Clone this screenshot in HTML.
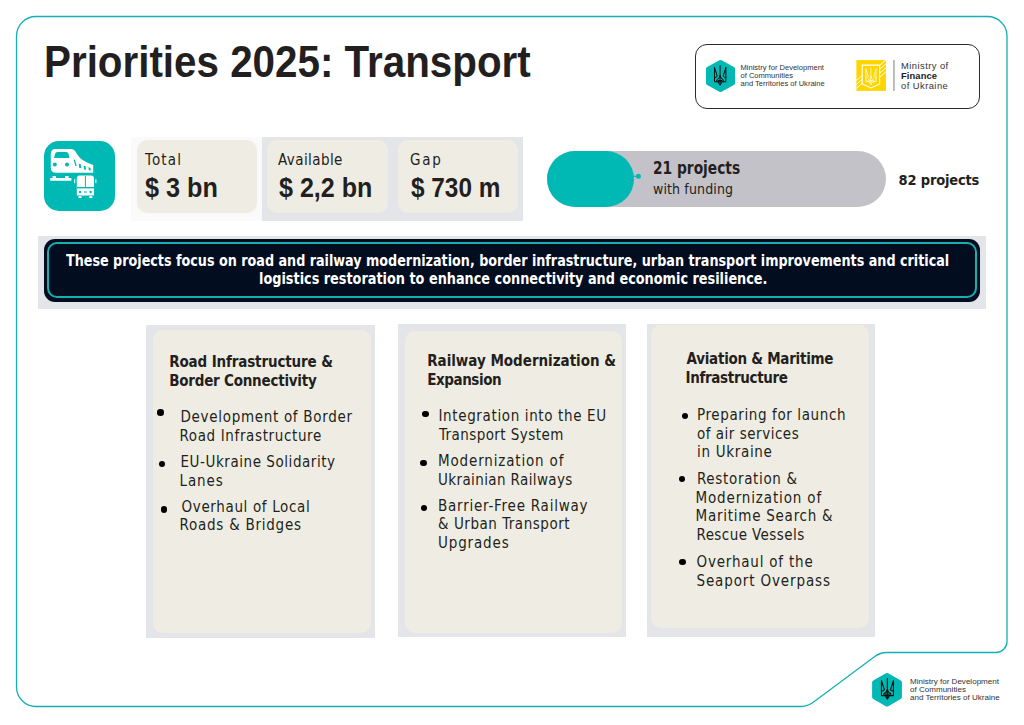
<!DOCTYPE html>
<html><head><meta charset="utf-8">
<title>Priorities 2025: Transport</title>
<style>
*{margin:0;padding:0;box-sizing:border-box}
html,body{width:1024px;height:725px;overflow:hidden;background:#fff}
body{position:relative;font-family:"Liberation Sans",sans-serif;color:#231f20}
.a{position:absolute;white-space:nowrap}
.t{color:#231f20}
.title{left:44.5px;top:41px;font-size:44px;line-height:44px;font-weight:700;transform-origin:0 0;transform:scaleX(0.921);color:#231f20}
.logos{left:695px;top:44px;width:284.5px;height:64.5px;border:1.5px solid #2b2b2b;border-radius:12px}
.iconbox{left:44.3px;top:141.2px;width:70.5px;height:70.3px;border-radius:15px;background:#00b8b4}
.statbg1{left:131px;top:137px;width:131px;height:84px;background:#fafafa}
.statbg2{left:262px;top:137px;width:261px;height:84px;background:#e4e5e8}
.stat{top:140px;width:120.5px;height:73px;border-radius:10px;background:#efede3}
.stat .l{position:absolute;left:8px;top:10px;font-size:15.5px;line-height:18px;color:#231f20}
.stat .v{position:absolute;left:8px;top:33px;font-size:26px;line-height:30px;font-weight:700;color:#231f20}
.bar{left:547px;top:151px;width:339px;height:56px;border-radius:28px;background:#c3c2c8}
.barfill{left:547px;top:151px;width:87px;height:56px;border-radius:28px/28px;background:#00b8b4}
.banbg{left:38px;top:236px;width:948px;height:73px;background:#e4e5e8}
.ban{left:44px;top:238.5px;width:936px;height:63px;border-radius:11px;background:#020d1f}
.banin{left:47px;top:242px;width:930px;height:56px;border-radius:10px;border:2px solid #14b1b0}
.bantxt{left:44px;top:249px;width:936px;text-align:center;color:#fff;font-weight:700;font-size:15.2px;line-height:19.5px;white-space:normal}
.cardbg{background:#e4e5e8}
.card{background:#efede3;border-radius:10px}
.dot{width:6.4px;height:6.4px;border-radius:50%;background:#000}
.lg{font-size:7.3px;line-height:7.85px;color:#333}
</style></head><body>

<svg class="a" style="left:0;top:0" width="1024" height="725" viewBox="0 0 1024 725">
  <path d="M36 16.5 H987.5 A19.5 19.5 0 0 1 1007 36 V641.5 A11 11 0 0 1 996 652.5 H887 Q880.2 652.5 874.75 656.5 L812.25 703 Q806.8 706.5 800 706.5 H36 A19.5 19.5 0 0 1 16.5 687 V36 A19.5 19.5 0 0 1 36 16.5 Z" fill="none" stroke="#14b0b4" stroke-width="1.3"/>
</svg>



<!-- logos box -->
<div class="a logos"></div>
<svg class="a" style="left:700px;top:55px" width="45" height="45" viewBox="0 0 45 45">
  <polygon points="20.5,7.3 32.7,14 32.7,28 20.5,34.7 8.3,28 8.3,14" fill="#00b8b4" stroke="#00b8b4" stroke-width="4.6" stroke-linejoin="round"/>
  <g transform="translate(13.9,10.7) scale(0.945)" fill="none" stroke="#111" stroke-width="1.05" stroke-linejoin="round" stroke-linecap="round">
    <path d="M6.53 0 V20 M0.65 2 V17 H12.66 V2 M0.65 2 L3.55 11.1 Q3 12.4 0.65 12.4 M12.66 2 L9.75 11.1 Q10.3 12.4 12.66 12.4 M6.53 10.5 Q6 14 3.1 14.9 V17 M6.53 10.5 Q7 14 9.96 14.9 V17 M4.4 17 L6.53 20.7 L8.7 17 M4.6 15.7 H8.5"/>
  </g>
</svg>
<div class="a lg" style="left:740.5px;top:64.2px;font-size:7.55px;line-height:7.85px">Ministry for Development<br>of Communities<br>and Territories of Ukraine</div>

<svg class="a" style="left:850px;top:55px" width="50" height="42" viewBox="0 0 50 42">
  <rect x="6.4" y="5.1" width="29.5" height="30.8" fill="#ffd500"/>
  <g stroke="#fff" stroke-width="0.9" fill="none">
    <path d="M6.4 25.5 L12.2 20.4 M6.4 29.4 L12.2 24.3 M6.4 33.3 L12.2 28.2"/>
    <path d="M29.6 10.2 L35.9 5 M29.6 14.2 L35.9 9 M29.6 18.2 L35.9 13 M29.6 22.2 L35.9 17"/>
    <path d="M12.2 10.1 H29.6 V28.9 L21 33 L12.2 28.9 Z" stroke-width="1.1"/>
  </g>
  <g transform="translate(15.4,12.4) scale(0.84)" fill="none" stroke="#fff7c8" stroke-width="1.05" stroke-linejoin="round" stroke-linecap="round">
    <path d="M6.53 0 V20 M0.65 2 V17 H12.66 V2 M0.65 2 L3.55 11.1 Q3 12.4 0.65 12.4 M12.66 2 L9.75 11.1 Q10.3 12.4 12.66 12.4 M6.53 10.5 Q6 14 3.1 14.9 V17 M6.53 10.5 Q7 14 9.96 14.9 V17 M4.4 17 L6.53 20.7 L8.7 17 M4.6 15.7 H8.5"/>
  </g>
  <rect x="43.3" y="5" width="1.3" height="31" fill="#9a9a9a"/>
</svg>
<div class="a" style="left:901px;top:60.5px;font-size:9.4px;line-height:10.1px;color:#333;letter-spacing:0.45px">Ministry of<br><b style="color:#1a1a1a;letter-spacing:0.1px">Finance</b><br>of Ukraine</div>

<!-- transport icon -->
<div class="a iconbox"></div>
<svg class="a" style="left:44px;top:141px" width="71" height="70" viewBox="0 0 71 70">
  <g fill="#fff">
    <path d="M6.8 13 Q6.8 8 11.8 8 H27.5 Q30 8 31.5 10.5 Q34.5 16.5 39.5 19.5 Q44 22.5 49.2 24 V31.8 H12 Q6.8 31.8 6.8 26.5 Z"/>
    <path d="M6.2 37 H27.4 V39.8 H6.2 Z M8.5 35 H12 V37 H8.5 Z M21 35 H24.5 V37 H21 Z"/>
    <path d="M32.8 37.5 Q32.8 34.6 35.6 34.6 H47.2 Q50 34.6 50 37.5 V54.6 H32.8 Z"/>
    <rect x="34.5" y="55.2" width="3" height="1.8"/>
    <rect x="45.3" y="55.2" width="3" height="1.8"/>
    <rect x="30.2" y="38.2" width="1" height="4"/>
    <rect x="51.4" y="38.2" width="1" height="4"/>
  </g>
  <g fill="#00b8b4">
    <path d="M10 17 L11 13 Q11.6 11 13.6 11 H22 Q24 11 24.6 13 L25.4 17 Z"/>
    <circle cx="10.8" cy="23.6" r="2"/>
    <circle cx="23" cy="23.6" r="2"/>
    <path d="M29.6 18.6 L30.9 18.8 L32.7 24.7 L31.4 24.9 Z"/>
    <path d="M34.8 22.8 L36.8 23.2 L37.3 27.2 L35.2 26.8 Z"/>
    <path d="M39.6 24.8 L41.6 25.2 L42 28.8 L40 28.4 Z"/>
    <path d="M44.4 26.3 L46.4 26.7 L46.8 29.6 L44.8 29.2 Z"/>
    <rect x="40.9" y="35" width="1" height="11.5"/>
    <rect x="32.8" y="46" width="17.2" height="1.4"/>
    <circle cx="36" cy="51" r="1.2"/>
    <circle cx="46.6" cy="51" r="1.2"/>
    <rect x="39.8" y="50.5" width="3.2" height="1"/>
  </g>
</svg>

<div class="a statbg1"></div>
<div class="a statbg2"></div>
<div class="a stat" style="left:136.5px"></div>
<div class="a stat" style="left:267px"></div>
<div class="a stat" style="left:397.5px"></div>

<div class="a bar"></div>
<div class="a barfill"></div>
<svg class="a" style="left:630px;top:170px" width="14" height="12" viewBox="0 0 14 12">
  <path d="M2 6.3 H7" stroke="#00b8b4" stroke-width="1.2"/>
  <circle cx="8.4" cy="6.3" r="2.5" fill="#00b8b4"/>
</svg>

<div class="a banbg"></div>
<div class="a ban"></div>
<div class="a banin"></div>


<div class="a cardbg" style="left:146px;top:325px;width:229px;height:313px"></div>
<div class="a card" style="left:153px;top:330px;width:218px;height:303px"></div>
<div class="a cardbg" style="left:398px;top:324px;width:228px;height:313px"></div>
<div class="a card" style="left:404.5px;top:330.5px;width:217.5px;height:302px"></div>
<div class="a cardbg" style="left:647px;top:324px;width:228px;height:313px"></div>
<div class="a card" style="left:651px;top:325px;width:218px;height:302.5px"></div>

<div class="a" id="title" style="left:43.50px;top:37.28px;font-family:'Liberation Sans',sans-serif;font-size:44px;font-weight:700;line-height:49.15px;color:#231f20;transform-origin:0 0;transform:scaleX(0.9173)">Priorities 2025: Transport</div>
<div class="a" id="s1l" style="left:145.00px;top:151.58px;font-family:'DejaVu Sans Condensed','DejaVu Sans',sans-serif;font-size:15px;font-weight:400;line-height:17.46px;color:#231f20;letter-spacing:1.200px">Total</div>
<div class="a" id="s1v" style="left:144.80px;top:172.76px;font-family:'Liberation Sans',sans-serif;font-size:27px;font-weight:700;line-height:30.16px;color:#231f20;transform-origin:0 0;transform:scaleX(0.9344)">$ 3 bn</div>
<div class="a" id="s2l" style="left:278.00px;top:152.48px;font-family:'DejaVu Sans Condensed','DejaVu Sans',sans-serif;font-size:15px;font-weight:400;line-height:17.46px;color:#231f20;letter-spacing:0.425px">Available</div>
<div class="a" id="s2v" style="left:279.00px;top:172.66px;font-family:'Liberation Sans',sans-serif;font-size:27px;font-weight:700;line-height:30.16px;color:#231f20;transform-origin:0 0;transform:scaleX(0.9286)">$ 2,2 bn</div>
<div class="a" id="s3l" style="left:410.00px;top:152.48px;font-family:'DejaVu Sans Condensed','DejaVu Sans',sans-serif;font-size:15px;font-weight:400;line-height:17.46px;color:#231f20;letter-spacing:1.700px">Gap</div>
<div class="a" id="s3v" style="left:410.80px;top:172.66px;font-family:'Liberation Sans',sans-serif;font-size:27px;font-weight:700;line-height:30.16px;color:#231f20;transform-origin:0 0;transform:scaleX(0.9022)">$ 730 m</div>
<div class="a" id="p21" style="left:653.00px;top:159.47px;font-family:'DejaVu Sans Condensed','DejaVu Sans',sans-serif;font-size:17px;font-weight:700;line-height:19.79px;color:#231f20;transform-origin:0 0;transform:scaleX(0.9011)">21 projects</div>
<div class="a" id="pwf" style="left:653.00px;top:181.11px;font-family:'DejaVu Sans Condensed','DejaVu Sans',sans-serif;font-size:14px;font-weight:400;line-height:16.30px;color:#231f20;letter-spacing:0.127px">with funding</div>
<div class="a" id="p82" style="left:898.50px;top:171.54px;font-family:'DejaVu Sans Condensed','DejaVu Sans',sans-serif;font-size:14.5px;font-weight:700;line-height:16.88px;color:#231f20;letter-spacing:-0.160px">82 projects</div>
<div class="a" id="b1" style="left:65.50px;top:253.48px;font-family:'DejaVu Sans Condensed','DejaVu Sans',sans-serif;font-size:15px;font-weight:700;line-height:17.46px;color:#fff;transform-origin:0 0;transform:scaleX(0.9449)">These projects focus on road and railway modernization, border infrastructure, urban transport improvements and critical</div>
<div class="a" id="b2" style="left:258.50px;top:270.88px;font-family:'DejaVu Sans Condensed','DejaVu Sans',sans-serif;font-size:15px;font-weight:700;line-height:17.46px;color:#fff;transform-origin:0 0;transform:scaleX(0.9523)">logistics restoration to enhance connectivity and economic resilience.</div>
<div class="a" id="c0" style="left:169.20px;top:354.28px;font-family:'DejaVu Sans Condensed','DejaVu Sans',sans-serif;font-size:15px;font-weight:700;line-height:17.46px;color:#231f20;letter-spacing:-0.135px">Road Infrastructure &amp;</div>
<div class="a" id="c1" style="left:169.20px;top:373.48px;font-family:'DejaVu Sans Condensed','DejaVu Sans',sans-serif;font-size:15px;font-weight:700;line-height:17.46px;color:#231f20;letter-spacing:-0.228px">Border Connectivity</div>
<div class="a" id="c2" style="left:180.50px;top:409.18px;font-family:'DejaVu Sans Condensed','DejaVu Sans',sans-serif;font-size:15px;font-weight:400;line-height:17.46px;color:#231f20;letter-spacing:0.690px">Development of Border</div>
<div class="a" id="c3" style="left:179.50px;top:428.08px;font-family:'DejaVu Sans Condensed','DejaVu Sans',sans-serif;font-size:15px;font-weight:400;line-height:17.46px;color:#231f20;letter-spacing:0.633px">Road Infrastructure</div>
<div class="a" id="c4" style="left:180.50px;top:454.18px;font-family:'DejaVu Sans Condensed','DejaVu Sans',sans-serif;font-size:15px;font-weight:400;line-height:17.46px;color:#231f20;letter-spacing:0.560px">EU-Ukraine Solidarity</div>
<div class="a" id="c5" style="left:179.50px;top:473.08px;font-family:'DejaVu Sans Condensed','DejaVu Sans',sans-serif;font-size:15px;font-weight:400;line-height:17.46px;color:#231f20;letter-spacing:0.900px">Lanes</div>
<div class="a" id="c6" style="left:181.50px;top:499.18px;font-family:'DejaVu Sans Condensed','DejaVu Sans',sans-serif;font-size:15px;font-weight:400;line-height:17.46px;color:#231f20;letter-spacing:0.650px">Overhaul of Local</div>
<div class="a" id="c7" style="left:179.50px;top:516.88px;font-family:'DejaVu Sans Condensed','DejaVu Sans',sans-serif;font-size:15px;font-weight:400;line-height:17.46px;color:#231f20;letter-spacing:0.757px">Roads &amp; Bridges</div>
<div class="a" id="c8" style="left:427.20px;top:352.68px;font-family:'DejaVu Sans Condensed','DejaVu Sans',sans-serif;font-size:15px;font-weight:700;line-height:17.46px;color:#231f20;letter-spacing:-0.014px">Railway Modernization &amp;</div>
<div class="a" id="c9" style="left:427.20px;top:372.38px;font-family:'DejaVu Sans Condensed','DejaVu Sans',sans-serif;font-size:15px;font-weight:700;line-height:17.46px;color:#231f20;letter-spacing:-0.425px">Expansion</div>
<div class="a" id="c10" style="left:438.50px;top:407.68px;font-family:'DejaVu Sans Condensed','DejaVu Sans',sans-serif;font-size:15px;font-weight:400;line-height:17.46px;color:#231f20;letter-spacing:0.636px">Integration into the EU</div>
<div class="a" id="c11" style="left:439.00px;top:427.38px;font-family:'DejaVu Sans Condensed','DejaVu Sans',sans-serif;font-size:15px;font-weight:400;line-height:17.46px;color:#231f20;letter-spacing:0.440px">Transport System</div>
<div class="a" id="c12" style="left:438.00px;top:453.08px;font-family:'DejaVu Sans Condensed','DejaVu Sans',sans-serif;font-size:15px;font-weight:400;line-height:17.46px;color:#231f20;letter-spacing:0.840px">Modernization of</div>
<div class="a" id="c13" style="left:438.00px;top:472.38px;font-family:'DejaVu Sans Condensed','DejaVu Sans',sans-serif;font-size:15px;font-weight:400;line-height:17.46px;color:#231f20;letter-spacing:0.388px">Ukrainian Railways</div>
<div class="a" id="c14" style="left:438.00px;top:498.38px;font-family:'DejaVu Sans Condensed','DejaVu Sans',sans-serif;font-size:15px;font-weight:400;line-height:17.46px;color:#231f20;letter-spacing:0.779px">Barrier-Free Railway</div>
<div class="a" id="c15" style="left:438.00px;top:515.58px;font-family:'DejaVu Sans Condensed','DejaVu Sans',sans-serif;font-size:15px;font-weight:400;line-height:17.46px;color:#231f20;letter-spacing:0.537px">&amp; Urban Transport</div>
<div class="a" id="c16" style="left:438.00px;top:534.88px;font-family:'DejaVu Sans Condensed','DejaVu Sans',sans-serif;font-size:15px;font-weight:400;line-height:17.46px;color:#231f20;letter-spacing:0.857px">Upgrades</div>
<div class="a" id="c17" style="left:686.60px;top:350.68px;font-family:'DejaVu Sans Condensed','DejaVu Sans',sans-serif;font-size:15px;font-weight:700;line-height:17.46px;color:#231f20;letter-spacing:-0.267px">Aviation &amp; Maritime</div>
<div class="a" id="c18" style="left:685.60px;top:370.48px;font-family:'DejaVu Sans Condensed','DejaVu Sans',sans-serif;font-size:15px;font-weight:700;line-height:17.46px;color:#231f20;letter-spacing:-0.346px">Infrastructure</div>
<div class="a" id="c19" style="left:697.00px;top:407.48px;font-family:'DejaVu Sans Condensed','DejaVu Sans',sans-serif;font-size:15px;font-weight:400;line-height:17.46px;color:#231f20;letter-spacing:0.611px">Preparing for launch</div>
<div class="a" id="c20" style="left:697.00px;top:426.08px;font-family:'DejaVu Sans Condensed','DejaVu Sans',sans-serif;font-size:15px;font-weight:400;line-height:17.46px;color:#231f20;letter-spacing:0.514px">of air services</div>
<div class="a" id="c21" style="left:697.00px;top:443.98px;font-family:'DejaVu Sans Condensed','DejaVu Sans',sans-serif;font-size:15px;font-weight:400;line-height:17.46px;color:#231f20;letter-spacing:0.689px">in Ukraine</div>
<div class="a" id="c22" style="left:697.00px;top:470.68px;font-family:'DejaVu Sans Condensed','DejaVu Sans',sans-serif;font-size:15px;font-weight:400;line-height:17.46px;color:#231f20;letter-spacing:0.667px">Restoration &amp;</div>
<div class="a" id="c23" style="left:695.50px;top:490.08px;font-family:'DejaVu Sans Condensed','DejaVu Sans',sans-serif;font-size:15px;font-weight:400;line-height:17.46px;color:#231f20;letter-spacing:0.853px">Modernization of</div>
<div class="a" id="c24" style="left:695.50px;top:507.98px;font-family:'DejaVu Sans Condensed','DejaVu Sans',sans-serif;font-size:15px;font-weight:400;line-height:17.46px;color:#231f20;letter-spacing:0.750px">Maritime Search &amp;</div>
<div class="a" id="c25" style="left:696.50px;top:526.68px;font-family:'DejaVu Sans Condensed','DejaVu Sans',sans-serif;font-size:15px;font-weight:400;line-height:17.46px;color:#231f20;letter-spacing:0.431px">Rescue Vessels</div>
<div class="a" id="c26" style="left:696.50px;top:553.68px;font-family:'DejaVu Sans Condensed','DejaVu Sans',sans-serif;font-size:15px;font-weight:400;line-height:17.46px;color:#231f20;letter-spacing:0.800px">Overhaul of the</div>
<div class="a" id="c27" style="left:696.50px;top:572.98px;font-family:'DejaVu Sans Condensed','DejaVu Sans',sans-serif;font-size:15px;font-weight:400;line-height:17.46px;color:#231f20;letter-spacing:0.867px">Seaport Overpass</div>
<div class="a dot" style="left:157.40px;top:409.30px"></div>
<div class="a dot" style="left:159.00px;top:461.10px"></div>
<div class="a dot" style="left:160.90px;top:506.30px"></div>
<div class="a dot" style="left:422.20px;top:411.10px"></div>
<div class="a dot" style="left:420.30px;top:459.80px"></div>
<div class="a dot" style="left:421.00px;top:505.10px"></div>
<div class="a dot" style="left:681.50px;top:412.50px"></div>
<div class="a dot" style="left:678.60px;top:475.50px"></div>
<div class="a dot" style="left:679.20px;top:558.70px"></div>

<!-- bottom-right logo -->
<svg class="a" style="left:866px;top:668px" width="42" height="44" viewBox="0 0 42 44">
  <polygon points="21,7.3 33.6,14.5 33.6,29 21,36.3 8.4,29 8.4,14.5" fill="#00b8b4" stroke="#00b8b4" stroke-width="4.6" stroke-linejoin="round"/>
  <g transform="translate(14.8,10.6)" fill="none" stroke="#111" stroke-width="1.1" stroke-linejoin="round" stroke-linecap="round">
    <path d="M6.53 0 V20 M0.65 2 V17 H12.66 V2 M0.65 2 L3.55 11.1 Q3 12.4 0.65 12.4 M12.66 2 L9.75 11.1 Q10.3 12.4 12.66 12.4 M6.53 10.5 Q6 14 3.1 14.9 V17 M6.53 10.5 Q7 14 9.96 14.9 V17 M4.4 17 L6.53 20.7 L8.7 17 M4.6 15.7 H8.5"/>
  </g>
</svg>
<div class="a lg" style="left:910px;top:677.6px;font-size:8.05px;line-height:8.05px">Ministry for Development<br>of Communities<br>and Territories of Ukraine</div>

</body></html>
